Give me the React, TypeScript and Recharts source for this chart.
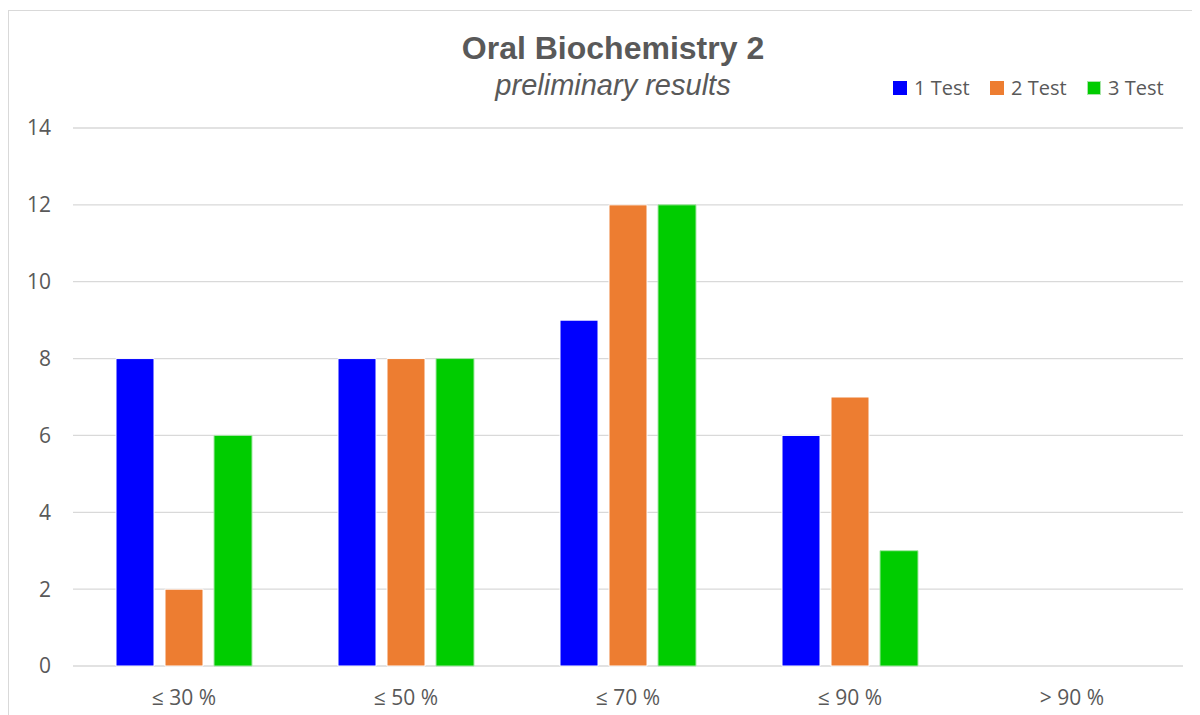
import React from "react";
import { BarChart, Bar, XAxis, YAxis, CartesianGrid } from "recharts";

const categories = ["≤ 30 %", "≤ 50 %", "≤ 70 %", "≤ 90 %", "> 90 %"];
const test1 = [8, 8, 9, 6, 0];
const test2 = [2, 8, 12, 7, 0];
const test3 = [6, 8, 12, 3, 0];
const yTicks = [0, 2, 4, 6, 8, 10, 12, 14];
const seriesNames = ["1 Test", "2 Test", "3 Test"];
const seriesColors = ["#0000ff", "#ed7d31", "#00cc00"];
const seriesStrokes = ["#ffffff", "#ffffff", "#a8e6a8"];

const data = categories.map((c, i) => ({
  name: c,
  t1: test1[i],
  t2: test2[i],
  t3: test3[i],
}));

const font = "'Open Sans', sans-serif";

export default function App() {
  return (
    <div
      style={{
        position: "relative",
        width: 1200,
        height: 705,
        marginTop: 2,
        borderTop: "1px solid #d9d9d9",
        borderLeft: "1px solid #d9d9d9",
        boxSizing: "border-box",
        background: "#fff",
      }}
    >
      <div
        style={{
          position: "absolute",
          left: 612 - 8 - 300,
          width: 600,
          top: 18,
          textAlign: "center",
          fontFamily: "'Liberation Sans', Arial, sans-serif",
          color: "#595959",
        }}
      >
        <div style={{ fontSize: 32, fontWeight: "bold", lineHeight: "38px" }}>
          Oral Biochemistry 2
        </div>
        <div style={{ fontSize: 29, fontStyle: "italic", lineHeight: "36px" }}>
          preliminary results
        </div>
      </div>
      <div
        style={{
          position: "absolute",
          left: 884,
          top: 63,
          display: "flex",
          fontFamily: font,
          fontSize: 20,
          color: "#595959",
        }}
      >
        {seriesNames.map((n, i) => (
          <div key={n} style={{ display: "flex", alignItems: "center", width: 97 }}>
            <div
              style={{
                width: 12,
                height: 12,
                background: seriesColors[i],
                border: `1px solid ${i === 2 ? "#a8e6a8" : seriesColors[i]}`,
                marginRight: 7,
              }}
            />
            <span>{n}</span>
          </div>
        ))}
      </div>
      <BarChart
        width={1191}
        height={703}
        data={data}
        margin={{ top: 117, right: 17, bottom: 0, left: 0 }}
        barGap={11}
        barCategoryGap={43}
      >
        <CartesianGrid vertical={false} stroke="#d9d9d9" strokeWidth={1.3} />
        <XAxis
          dataKey="name"
          axisLine={false}
          tickLine={false}
          height={48}
          tickMargin={18}
          tick={{ fill: "#595959", fontSize: 21, fontFamily: font }}
        />
        <YAxis
          domain={[0, 14]}
          ticks={yTicks}
          axisLine={false}
          tickLine={false}
          width={64}
          tickMargin={16}
          tick={{ fill: "#595959", fontSize: 21, fontFamily: font }}
        />
        <Bar dataKey="t1" name={seriesNames[0]} fill={seriesColors[0]} stroke={seriesStrokes[0]} strokeWidth={1} barSize={38} isAnimationActive={false} />
        <Bar dataKey="t2" name={seriesNames[1]} fill={seriesColors[1]} stroke={seriesStrokes[1]} strokeWidth={1} barSize={38} isAnimationActive={false} />
        <Bar dataKey="t3" name={seriesNames[2]} fill={seriesColors[2]} stroke={seriesStrokes[2]} strokeWidth={1} barSize={38} isAnimationActive={false} />
      </BarChart>
    </div>
  );
}
